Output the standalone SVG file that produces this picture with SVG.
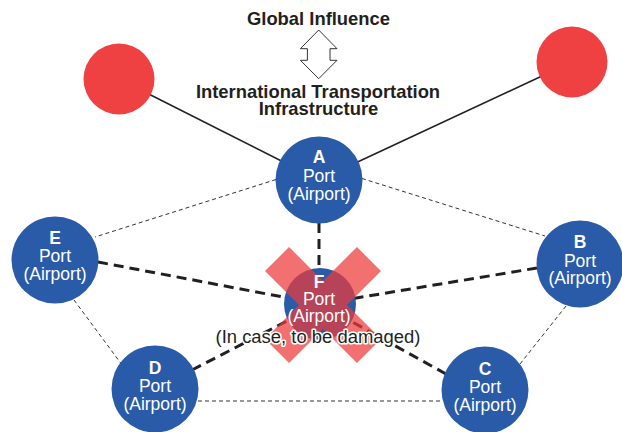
<svg xmlns="http://www.w3.org/2000/svg" width="622" height="432" viewBox="0 0 622 432">
<style>
.title{font-family:"Liberation Sans",Arial,Helvetica,sans-serif;font-weight:bold;font-size:18.4px;fill:#231f20;text-anchor:middle}
.port{fill:#295ba8}
.red{fill:#ef4141}
.lbl{font-family:"Liberation Sans",Arial,Helvetica,sans-serif;font-size:17.5px;fill:#ffffff;text-anchor:middle}
.lbl .id{font-weight:bold}
.solid{stroke:#231f20;stroke-width:1.6;fill:none}
.thin{stroke:#333;stroke-width:1;stroke-dasharray:4 3;fill:none}
.thick{stroke:#231f20;stroke-width:3;stroke-dasharray:10 6;fill:none}
.note{font-family:"Liberation Sans",Arial,Helvetica,sans-serif;font-size:17.5px;fill:#231f20;text-anchor:middle;stroke:#ffffff;stroke-width:3;paint-order:stroke;stroke-linejoin:round}
</style>
<rect width="622" height="432" fill="#ffffff"/>
<g id="header">
<text class="title" x="318.5" y="25">Global Influence</text>
<path d="M318.7,30 L337,48.7 L330,48.7 L330,60.3 L337,60.3 L318.7,78.7 L300.4,60.3 L307.4,60.3 L307.4,48.7 L300.4,48.7 Z" fill="#ffffff" stroke="#333" stroke-width="1"/>
<text class="title" x="318" y="98">International Transportation</text>
<text class="title" x="318.5" y="115">Infrastructure</text>
</g>
<g id="connectors">
<line class="solid" x1="119" y1="79" x2="319" y2="180"/>
<line class="solid" x1="572" y1="62" x2="319" y2="180"/>
<line class="thin" x1="276" y1="179.5" x2="95" y2="237"/>
<line class="thin" x1="362" y1="178.5" x2="545" y2="236"/>
<line class="thin" x1="74" y1="300" x2="121" y2="363.5"/>
<line class="thin" x1="566" y1="306" x2="520" y2="364"/>
<line class="thin" x1="198" y1="401" x2="442" y2="401"/>
<line class="thick" x1="319" y1="223" x2="319" y2="304"/>
<line class="thick" x1="98" y1="262" x2="320" y2="304"/>
<line class="thick" x1="537" y1="268" x2="320" y2="304"/>
<line class="thick" x1="192" y1="370" x2="320" y2="304"/>
<line class="thick" x1="446" y1="374" x2="320" y2="304"/>
</g>
<g id="global-left"><circle class="red" cx="119" cy="79" r="35.5"/></g>
<g id="global-right"><circle class="red" cx="572" cy="62" r="35.5"/></g>
<g id="node-A">
<circle class="port" cx="319" cy="180" r="43.5"/>
<text class="lbl"><tspan class="id" x="319" y="163">A</tspan><tspan x="319" y="181.5">Port</tspan><tspan x="319" y="199.5">(Airport)</tspan></text>
</g>
<g id="node-B">
<circle class="port" cx="580" cy="264" r="43.5"/>
<text class="lbl"><tspan class="id" x="580" y="248">B</tspan><tspan x="580" y="266.5">Port</tspan><tspan x="580" y="284">(Airport)</tspan></text>
</g>
<g id="node-C">
<circle class="port" cx="485" cy="390" r="43.5"/>
<text class="lbl"><tspan class="id" x="485" y="375">C</tspan><tspan x="485" y="393">Port</tspan><tspan x="485" y="411">(Airport)</tspan></text>
</g>
<g id="node-D">
<circle class="port" cx="155" cy="389" r="43.5"/>
<text class="lbl"><tspan class="id" x="155" y="373.5">D</tspan><tspan x="155" y="391.5">Port</tspan><tspan x="155" y="409.5">(Airport)</tspan></text>
</g>
<g id="node-E">
<circle class="port" cx="55" cy="260" r="43.5"/>
<text class="lbl"><tspan class="id" x="55" y="244">E</tspan><tspan x="55" y="262">Port</tspan><tspan x="55" y="280">(Airport)</tspan></text>
</g>
<g id="node-F">
<circle class="port" cx="320" cy="304" r="36"/>
<g id="damage-x" opacity="0.72" fill="#ee3a3a">
<rect x="258" y="288" width="130" height="34" transform="rotate(45 323 305)"/>
<rect x="258" y="288" width="130" height="34" transform="rotate(-45 323 305)"/>
</g>
<text class="lbl"><tspan class="id" x="319" y="287.5">F</tspan><tspan x="319" y="305">Port</tspan><tspan x="319" y="322">(Airport)</tspan></text>
</g>
<g id="damage-note">
<text class="note" x="318" y="342.5" textLength="205" lengthAdjust="spacingAndGlyphs">(In case, to be damaged)</text>
</g>
</svg>
